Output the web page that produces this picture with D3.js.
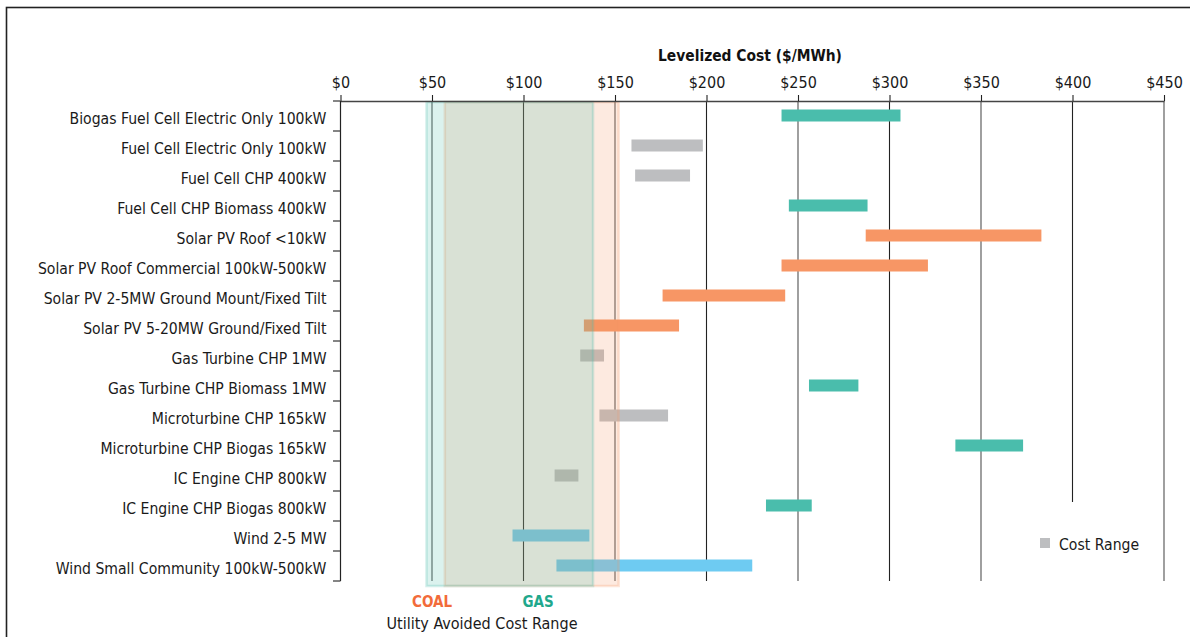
<!DOCTYPE html>
<html>
<head>
<meta charset="utf-8">
<script src="https://cdn.jsdelivr.net/npm/d3@7"></script>
<style>
  html, body { margin: 0; padding: 0; background: #fff; }
  svg { display: block; }
  text { font-family: "DejaVu Sans Condensed", "Liberation Sans Narrow", sans-serif; }
</style>
</head>
<body>
<svg id="chart" width="1190" height="637"></svg>
<script>
// Technologies, top to bottom
const technologies = [
  "Biogas Fuel Cell Electric Only 100kW",
  "Fuel Cell Electric Only 100kW",
  "Fuel Cell CHP 400kW",
  "Fuel Cell CHP Biomass 400kW",
  "Solar PV Roof <10kW",
  "Solar PV Roof Commercial 100kW-500kW",
  "Solar PV 2-5MW Ground Mount/Fixed Tilt",
  "Solar PV 5-20MW Ground/Fixed Tilt",
  "Gas Turbine CHP 1MW",
  "Gas Turbine CHP Biomass 1MW",
  "Microturbine CHP 165kW",
  "Microturbine CHP Biogas 165kW",
  "IC Engine CHP 800kW",
  "IC Engine CHP Biogas 800kW",
  "Wind 2-5 MW",
  "Wind Small Community 100kW-500kW"
];
// Levelized cost range, $/MWh
const costLow  = [241, 159, 161, 245, 287, 241, 176, 133, 131, 256, 141.5, 336, 117, 232.5, 94, 118];
const costHigh = [306, 198, 191, 288, 383, 321, 243, 185, 144, 283, 179, 373, 130, 257.5, 136, 225];
// Technology family of each row
const family = ["biogas", "fossil", "fossil", "biogas", "solar", "solar", "solar", "solar",
                "fossil", "biogas", "fossil", "biogas", "fossil", "biogas", "wind", "wind"];
const familyColor = { biogas: "#4abdac", fossil: "#bdbec0", solar: "#f79665", wind: "#6ecbf2" };

// Utility avoided cost ranges, $/MWh (drawn in this order)
const avoidedNames = ["COAL", "GAS"];
const avoidedLow   = [57, 47];
const avoidedHigh  = [152, 138];
const avoidedFill  = ["#f79665", "#4abdac"];
const avoidedLabelColor = ["#f26b3a", "#1fa88c"];
const avoidedLabelValue = [50, 108];

const xTicks = [0, 50, 100, 150, 200, 250, 300, 350, 400, 450];

const svg = d3.select("#chart");

const x = d3.scaleLinear().domain([0, 450]).range([340.5, 1164]);
const y = d3.scaleBand().domain(technologies).range([101, 581]).padding(0);
const barH = 12;

// outer frame
svg.append("rect")
  .attr("x", 6.5).attr("y", 7.5).attr("width", 1300).attr("height", 800)
  .attr("fill", "none").attr("stroke", "#222").attr("stroke-width", 1.6);

// vertical gridlines
svg.append("g").selectAll("line")
  .data(xTicks.slice(1))
  .join("line")
  .attr("x1", d => x(d)).attr("x2", d => x(d))
  .attr("y1", 101).attr("y2", 581)
  .attr("stroke", d => (d % 100 === 50) ? "#888" : "#222")
  .attr("stroke-width", d => (d % 100 === 50) ? 1.6 : 1.1);

// legend backdrop hides the grid behind it
svg.append("rect")
  .attr("x", 1020).attr("y", 502).attr("width", 130).attr("height", 90)
  .attr("fill", "#fff");

// cost range bars
svg.append("g").selectAll("rect")
  .data(technologies)
  .join("rect")
  .attr("x", (d, i) => x(costLow[i]))
  .attr("width", (d, i) => x(costHigh[i]) - x(costLow[i]))
  .attr("y", d => y(d) + y.bandwidth() / 2 - barH / 2 - 0.5)
  .attr("height", barH)
  .attr("fill", (d, i) => familyColor[family[i]]);

// avoided-cost bands laid over the bars
svg.append("g").selectAll("rect")
  .data(avoidedNames)
  .join("rect")
  .attr("x", (d, i) => x(avoidedLow[i]))
  .attr("width", (d, i) => x(avoidedHigh[i]) - x(avoidedLow[i]))
  .attr("y", 102).attr("height", 484)
  .attr("fill", (d, i) => avoidedFill[i]).attr("fill-opacity", 0.2)
  .attr("stroke", (d, i) => avoidedFill[i]).attr("stroke-opacity", 0.25).attr("stroke-width", 2.5);

const fontStack = "'DejaVu Sans Condensed', 'Liberation Sans Narrow', sans-serif";

// top axis
const xAxis = svg.append("g")
  .attr("transform", "translate(0,101)")
  .call(d3.axisTop(x).tickValues(xTicks).tickFormat(d => "$" + d).tickSize(6).tickSizeOuter(0).tickPadding(7));
xAxis.select(".domain").attr("stroke", "#444").attr("stroke-width", 1.4);
xAxis.selectAll(".tick line").attr("stroke", "#222").attr("stroke-width", 1.1);
xAxis.selectAll(".tick text")
  .attr("font-size", 16).attr("fill", "#1a1a1a")
  .style("font-family", fontStack);

// axis title
svg.append("text")
  .attr("x", 750).attr("y", 61)
  .attr("text-anchor", "middle")
  .attr("font-size", 15.4).attr("font-weight", "bold").attr("fill", "#111")
  .text("Levelized Cost ($/MWh)");

// left axis: labels centred on rows, ticks on row boundaries
const yAxis = svg.append("g")
  .attr("transform", "translate(340.5,0)")
  .call(d3.axisLeft(y).tickSize(0).tickPadding(14));
yAxis.select(".domain").remove();
yAxis.selectAll(".tick text")
  .attr("font-size", 15.6).attr("fill", "#1a1a1a").attr("dy", "0.48em")
  .style("font-family", fontStack);

const bounds = technologies.map(d => y(d)).concat([y.range()[1]]);
svg.append("line")
  .attr("x1", 340.5).attr("x2", 340.5).attr("y1", 101).attr("y2", 581)
  .attr("stroke", "#222").attr("stroke-width", 1.2);
svg.append("g").selectAll("line")
  .data(bounds)
  .join("line")
  .attr("x1", 333).attr("x2", 340.5)
  .attr("y1", d => d).attr("y2", d => d)
  .attr("stroke", "#333").attr("stroke-width", 1.2);

// band labels
svg.append("g").selectAll("text")
  .data(avoidedNames)
  .join("text")
  .attr("x", (d, i) => x(avoidedLabelValue[i]))
  .attr("y", 607)
  .attr("text-anchor", "middle")
  .attr("font-size", 15).attr("font-weight", "bold")
  .attr("fill", (d, i) => avoidedLabelColor[i])
  .text(d => d);

svg.append("text")
  .attr("x", 482).attr("y", 629)
  .attr("text-anchor", "middle")
  .attr("font-size", 16).attr("fill", "#1a1a1a")
  .text("Utility Avoided Cost Range");

// legend
svg.append("rect")
  .attr("x", 1040).attr("y", 538).attr("width", 10).attr("height", 10)
  .attr("fill", familyColor.fossil);
svg.append("text")
  .attr("x", 1059).attr("y", 550)
  .attr("font-size", 15.6).attr("fill", "#1a1a1a")
  .text("Cost Range");
</script>
</body>
</html>
